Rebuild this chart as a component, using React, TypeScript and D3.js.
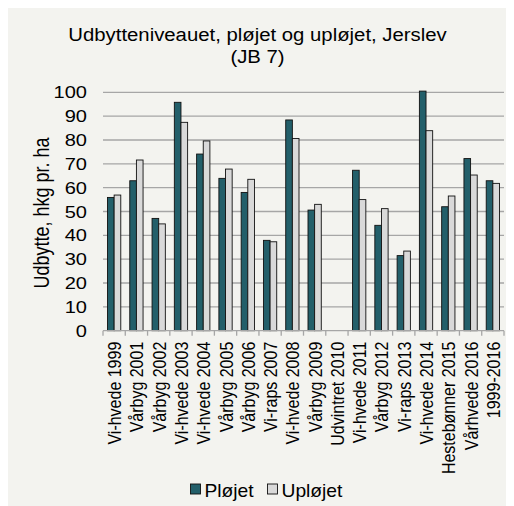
import React, { useRef, useEffect } from "react";
import * as d3 from "d3";

const categories = [
    "Vi-hvede 1999",
    "Vårbyg 2001",
    "Vårbyg 2002",
    "Vi-hvede 2003",
    "Vi-hvede 2004",
    "Vårbyg 2005",
    "Vårbyg 2006",
    "Vi-raps 2007",
    "Vi-hvede 2008",
    "Vårbyg 2009",
    "Udvintret 2010",
    "Vi-hvede 2011",
    "Vårbyg 2012",
    "Vi-raps 2013",
    "Vi-hvede 2014",
    "Hestebønner 2015",
    "Vårhvede 2016",
    "1999-2016",
];

const plojet: (number | null)[] = [
    55.9, 62.9, 47.1, 95.8, 74.1, 63.9, 58.0, 37.9, 88.4, 50.6, null, 67.3,
    44.2, 31.5, 100.5, 52.0, 72.2, 62.9,
];
const uplojet: (number | null)[] = [
    56.9, 71.6, 44.8, 87.4, 79.6, 67.8, 63.5, 37.3, 80.6, 53.0, null, 55.0,
    51.2, 33.4, 83.9, 56.5, 65.3, 61.8,
];

const seriesNames = ["Pløjet", "Upløjet"];
const seriesColors = ["#235f6a", "#d9d9d9"];
const yTicks = [0, 10, 20, 30, 40, 50, 60, 70, 80, 90, 100];

const title1 = "Udbytteniveauet, pløjet og upløjet, Jerslev";
const title2 = "(JB 7)";
const yTitle = "Udbytte, hkg pr. ha";

const FONT = "'Liberation Sans', Arial, sans-serif";
const SX = 1.18; // text in the reference is stretched sideways

const App: React.FC = () => {
    const ref = useRef<SVGSVGElement | null>(null);

    useEffect(() => {
        const root = d3.select(ref.current);
        root.selectAll("*").remove();

        const W = 506;
        const H = 498;
        const plot = { left: 95, right: 496, top: 84.3, bottom: 322.7 };

        root.attr("width", W).attr("height", H);
        root.append("rect")
            .attr("width", W)
            .attr("height", H)
            .attr("fill", "#f3f3ef");

        const x0 = d3
            .scaleBand<string>()
            .domain(categories)
            .range([plot.left, plot.right])
            .padding(0);
        const bw = x0.bandwidth();
        const x1 = d3
            .scaleBand<string>()
            .domain(seriesNames)
            .range([4.5, bw - 4.5])
            .padding(0);

        const y = d3
            .scaleLinear()
            .domain([0, 100])
            .range([plot.bottom, plot.top]);

        // gridlines
        root.append("g")
            .selectAll("line")
            .data(yTicks.filter((t) => t > 0))
            .enter()
            .append("line")
            .attr("x1", plot.left)
            .attr("x2", plot.right)
            .attr("y1", (d) => y(d))
            .attr("y2", (d) => y(d))
            .attr("stroke", "#a6a6a6")
            .attr("stroke-width", 1.3);

        // y tick labels
        root.append("g")
            .selectAll("text")
            .data(yTicks)
            .enter()
            .append("text")
            .attr(
                "transform",
                (d) => `translate(79,${y(d) + 6}) scale(${SX},1)`
            )
            .attr("text-anchor", "end")
            .style("font-family", FONT)
            .style("font-size", "17px")
            .attr("fill", "#000")
            .text((d) => d);

        // bars
        const values = [plojet, uplojet];
        seriesNames.forEach((name, si) => {
            root.append("g")
                .selectAll("rect")
                .data(categories.map((c, i) => ({ c, v: values[si][i] })))
                .enter()
                .filter((d) => d.v !== null)
                .append("rect")
                .attr("x", (d) => (x0(d.c) as number) + (x1(name) as number))
                .attr("width", x1.bandwidth())
                .attr("y", (d) => y(d.v as number))
                .attr("height", (d) => plot.bottom - y(d.v as number))
                .attr("fill", seriesColors[si])
                .attr("stroke", "#111")
                .attr("stroke-width", 0.9);
        });

        // x axis line and ticks
        const axis = root.append("g");
        axis.append("line")
            .attr("x1", plot.left)
            .attr("x2", plot.right)
            .attr("y1", plot.bottom)
            .attr("y2", plot.bottom)
            .attr("stroke", "#a6a6a6")
            .attr("stroke-width", 1.3);
        axis.selectAll("line.tick")
            .data(d3.range(categories.length + 1))
            .enter()
            .append("line")
            .attr("class", "tick")
            .attr("x1", (i) => plot.left + i * bw)
            .attr("x2", (i) => plot.left + i * bw)
            .attr("y1", plot.bottom)
            .attr("y2", plot.bottom + 5)
            .attr("stroke", "#a6a6a6")
            .attr("stroke-width", 1.3);

        // x labels
        root.append("g")
            .selectAll("text")
            .data(categories)
            .enter()
            .append("text")
            .attr(
                "transform",
                (d) =>
                    `translate(${(x0(d) as number) + bw / 2 + 7},${plot.bottom + 11}) scale(${SX},1) rotate(-90)`
            )
            .attr("text-anchor", "end")
            .style("font-family", FONT)
            .style("font-size", "16px")
            .attr("fill", "#000")
            .text((d) => d);

        // y axis title
        root.append("text")
            .attr("transform", `translate(41,205) scale(${SX},1) rotate(-90)`)
            .attr("text-anchor", "middle")
            .style("font-family", FONT)
            .style("font-size", "18px")
            .attr("fill", "#000")
            .text(yTitle);

        // title
        [title1, title2].forEach((t, i) => {
            root.append("text")
                .attr(
                    "transform",
                    `translate(249.5,${32.5 + i * 22}) scale(1.13,1)`
                )
                .attr("text-anchor", "middle")
                .style("font-family", FONT)
                .style("font-size", "18px")
                .attr("fill", "#000")
                .text(t);
        });

        // legend
        const legX = [182.5, 259.5];
        seriesNames.forEach((name, i) => {
            const g = root.append("g").attr("transform", `translate(${legX[i]},476)`);
            g.append("rect")
                .attr("width", 10)
                .attr("height", 10)
                .attr("fill", seriesColors[i])
                .attr("stroke", "#111")
                .attr("stroke-width", 0.9);
            g.append("text")
                .attr("transform", `translate(14,12.5) scale(1.1,1)`)
                .style("font-family", FONT)
                .style("font-size", "17.5px")
                .attr("fill", "#000")
                .text(name);
        });
    }, []);

    return <svg ref={ref} style={{ display: "block" }}></svg>;
};

export default App;
